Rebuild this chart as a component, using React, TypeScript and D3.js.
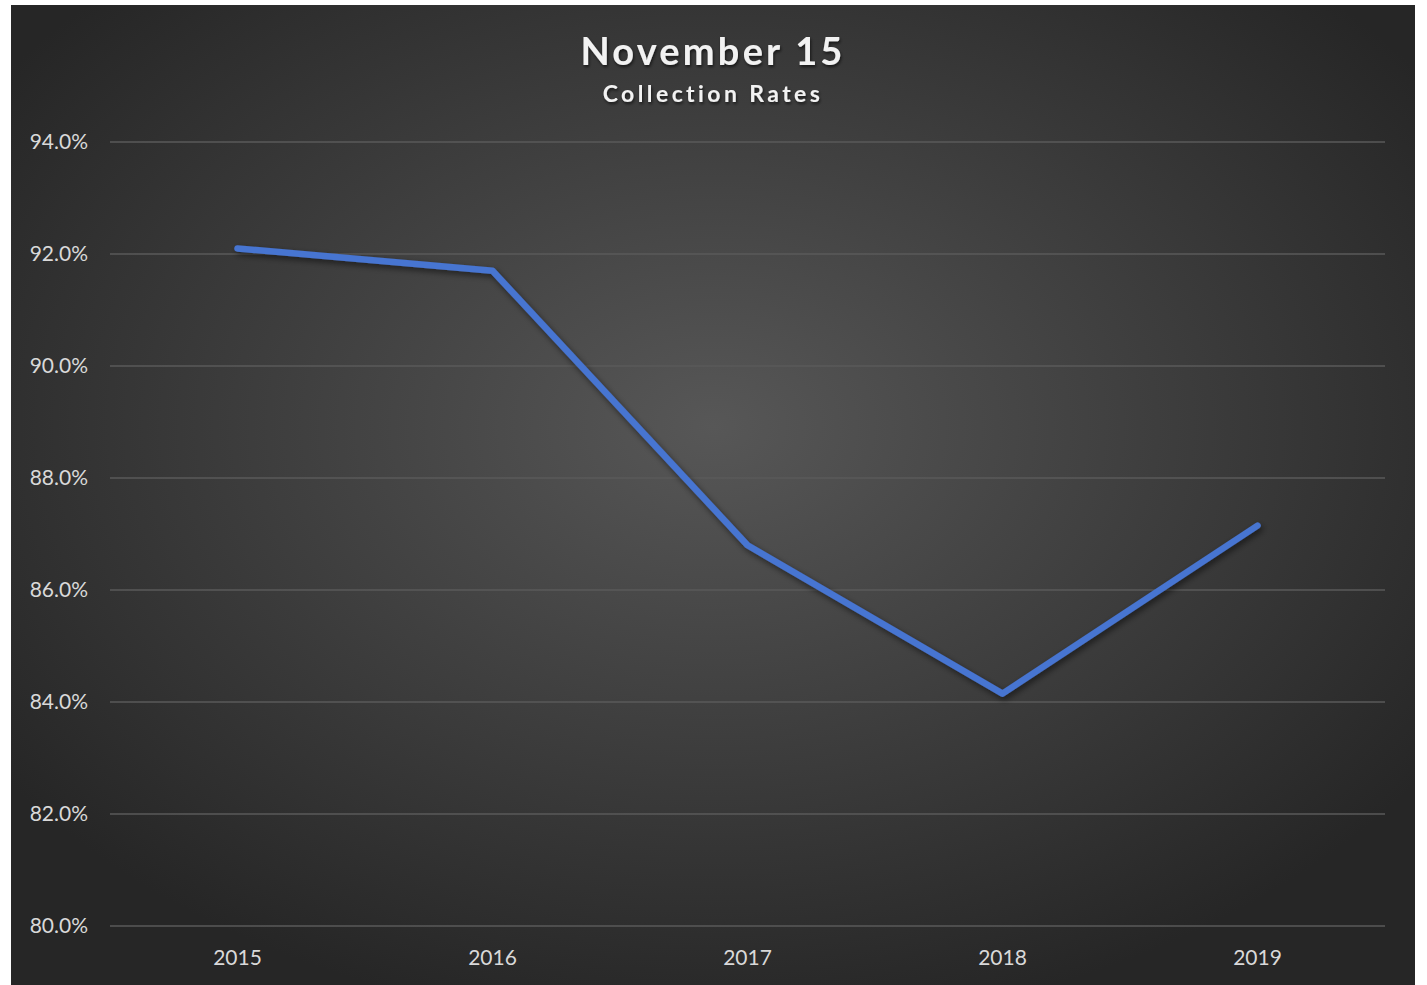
import React from "react";
import * as d3 from "d3";

const years = ["2015", "2016", "2017", "2018", "2019"];
const rates = [92.1, 91.7, 86.8, 84.15, 87.15];
const yTicks = [80, 82, 84, 86, 88, 90, 92, 94];
const title = "November 15";
const subtitle = "Collection Rates";

const W = 1427;
const H = 985;
const bg = { x: 11, y: 5, w: 1404, h: 980 };
const plot = { left: 110, right: 1385, top: 142, bottom: 926 };

export default function App() {
  const x = d3.scaleBand<string>().domain(years).range([plot.left, plot.right]);
  const y = d3.scaleLinear().domain([80, 94]).range([plot.bottom, plot.top]);
  const line = d3
    .line<number>()
    .x((_, i) => (x(years[i]) as number) + x.bandwidth() / 2)
    .y((d) => y(d));
  const font = "Lato, 'Open Sans', sans-serif";
  return (
    <svg
      width={W}
      height={H}
      style={{ position: "absolute", left: 0, top: 0, display: "block" }}
    >
      <defs>
        <radialGradient id="bgGrad" cx="50%" cy="43%" r="62%">
          <stop offset="0%" stopColor="#575757" />
          <stop offset="100%" stopColor="#262626" />
        </radialGradient>
        <filter id="shadow" x="-10%" y="-10%" width="120%" height="120%">
          <feDropShadow dx="2" dy="3" stdDeviation="3" floodColor="#000" floodOpacity="0.55" />
        </filter>
        <filter id="tshadow" x="-10%" y="-30%" width="120%" height="160%">
          <feDropShadow dx="1" dy="2" stdDeviation="1.5" floodColor="#000" floodOpacity="0.6" />
        </filter>
      </defs>
      <rect x={bg.x} y={bg.y} width={bg.w} height={bg.h} fill="url(#bgGrad)" />
      {yTicks.map((t) => (
        <g key={t}>
          <line
            x1={plot.left}
            x2={plot.right}
            y1={y(t)}
            y2={y(t)}
            stroke="#5a5a5a"
            strokeWidth={1.5}
          />
          <text
            x={88}
            y={y(t)}
            dy="0.35em"
            textAnchor="end"
            fill="#d9d9d9"
            fontSize={21}
            fontFamily={font}
          >
            {t.toFixed(1)}%
          </text>
        </g>
      ))}
      {years.map((yr) => (
        <text
          key={yr}
          x={(x(yr) as number) + x.bandwidth() / 2}
          y={958}
          dy="0.35em"
          textAnchor="middle"
          fill="#d9d9d9"
          fontSize={21}
          fontFamily={font}
        >
          {yr}
        </text>
      ))}
      <path
        d={line(rates) || ""}
        fill="none"
        stroke="#4674d1"
        strokeWidth={6.5}
        strokeLinecap="round"
        strokeLinejoin="round"
        filter="url(#shadow)"
      />
      <text
        x={713}
        y={65}
        textAnchor="middle"
        fill="#f2f2f2"
        fontSize={38}
        fontWeight="bold"
        letterSpacing={3.2}
        fontFamily={font}
        filter="url(#tshadow)"
      >
        {title}
      </text>
      <text
        x={713}
        y={102}
        textAnchor="middle"
        fill="#f2f2f2"
        fontSize={23}
        fontWeight="bold"
        letterSpacing={3.4}
        fontFamily={font}
        filter="url(#tshadow)"
      >
        {subtitle}
      </text>
    </svg>
  );
}
